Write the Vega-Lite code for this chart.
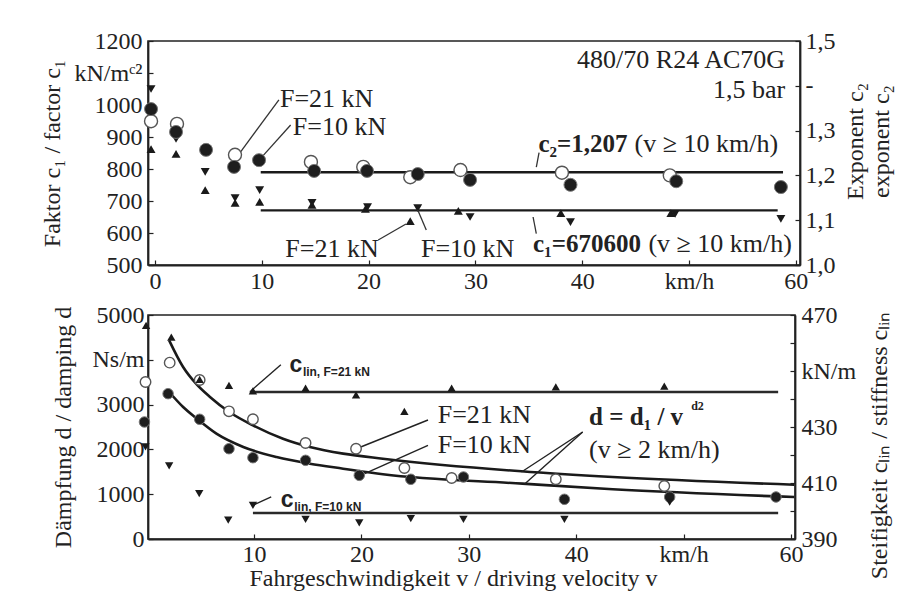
{
  "$schema": "https://vega.github.io/schema/vega-lite/v6.json",
  "bounds": "flush",
  "spacing": 50,
  "padding": {"left": 40, "top": 28, "right": 5, "bottom": 5},
  "config": {
    "font": "Times New Roman, Liberation Serif, serif",
    "view": {"stroke": "#222", "strokeWidth": 1.6},
    "axis": {
      "labelFont": "Times New Roman, Liberation Serif, serif", "labelFontSize": 24, "labelColor": "#222",
      "titleFont": "Times New Roman, Liberation Serif, serif", "titleFontSize": 24, "titleFontWeight": "normal", "titleColor": "#222",
      "grid": false, "domainColor": "#222", "domainWidth": 1.8,
      "tickColor": "#222", "tickSize": -5, "tickWidth": 1.2, "labelPadding": 10
    },
    "text": {"font": "Times New Roman, Liberation Serif, serif", "fontSize": 26, "color": "#222", "baseline": "middle"}
  },
  "datasets": {
    "top_c2_open": [
      {"v": -0.37, "c2": 1.321}, {"v": 2.06, "c2": 1.315}, {"v": 7.49, "c2": 1.246}, {"v": 14.6, "c2": 1.23},
      {"v": 19.5, "c2": 1.219}, {"v": 23.9, "c2": 1.196}, {"v": 28.6, "c2": 1.212}, {"v": 38.1, "c2": 1.206},
      {"v": 48.2, "c2": 1.2}
    ],
    "top_c2_filled": [
      {"v": -0.37, "c2": 1.348}, {"v": 1.97, "c2": 1.297}, {"v": 4.78, "c2": 1.257}, {"v": 7.4, "c2": 1.219},
      {"v": 9.74, "c2": 1.234}, {"v": 14.9, "c2": 1.21}, {"v": 19.85, "c2": 1.21}, {"v": 24.6, "c2": 1.203},
      {"v": 29.5, "c2": 1.19}, {"v": 38.9, "c2": 1.179}, {"v": 48.8, "c2": 1.187}, {"v": 58.6, "c2": 1.174}
    ],
    "top_c2_fit": [{"v": 9.9, "v2": 58.8, "c2": 1.207}],
    "top_c1_up": [
      {"v": -0.37, "c1": 862}, {"v": 1.97, "c1": 847}, {"v": 4.7, "c1": 734}, {"v": 7.5, "c1": 694},
      {"v": 9.8, "c1": 697}, {"v": 14.7, "c1": 688}, {"v": 19.7, "c1": 675}, {"v": 23.9, "c1": 637},
      {"v": 28.4, "c1": 669}, {"v": 38.0, "c1": 662}, {"v": 48.3, "c1": 662}
    ],
    "top_c1_down": [
      {"v": -0.37, "c1": 1050}, {"v": 1.97, "c1": 894}, {"v": 4.7, "c1": 791}, {"v": 7.5, "c1": 709},
      {"v": 9.8, "c1": 734}, {"v": 14.7, "c1": 694}, {"v": 19.9, "c1": 681}, {"v": 24.6, "c1": 678},
      {"v": 29.5, "c1": 650}, {"v": 38.9, "c1": 634}, {"v": 48.7, "c1": 660}, {"v": 58.6, "c1": 644}
    ],
    "top_c1_fit": [{"v": 9.9, "v2": 58.3, "c1": 670.6}],
    "top_lead": [
      {"v": 11.6, "c1": 1016, "v2": 8.0, "c1b": 853},
      {"v": 12.7, "c1": 937.5, "v2": 10.1, "c1b": 841},
      {"v": 20.9, "c1": 578, "v2": 23.5, "c1b": 628},
      {"v": 25.4, "c1": 609, "v2": 24.6, "c1b": 672},
      {"v": 35.96, "c1": 851, "v2": 35.7, "c1b": 806},
      {"v": 35.4, "c1": 650, "v2": 35.7, "c1b": 598}
    ],
    "top_text_left": [
      {"v": 11.7, "c1": 1019, "t": "F=21 kN"},
      {"v": 12.9, "c1": 931, "t": "F=10 kN"},
      {"v": 12.2, "c1": 550, "t": "F=21 kN"},
      {"v": 24.9, "c1": 550, "t": "F=10 kN"},
      {"v": 44.9, "c1": 878, "t": "(v ≥ 10 km/h)"},
      {"v": 46.2, "c1": 566, "t": "(v ≥ 10 km/h)"}
    ],
    "top_text_right": [
      {"v": 59.0, "c1": 1140, "t": "480/70 R24 AC70G"},
      {"v": 59.0, "c1": 1047, "t": "1,5 bar"}
    ],
    "top_text_bold": [
      {"v": 35.9, "c1": 878, "t": "c₂=1,207"},
      {"v": 35.4, "c1": 566, "t": "c₁=670600"}
    ],
    "bot_d_open": [
      {"v": -0.1, "d": 3504}, {"v": 2.15, "d": 3936}, {"v": 4.94, "d": 3550}, {"v": 7.67, "d": 2850},
      {"v": 9.9, "d": 2672}, {"v": 14.8, "d": 2143}, {"v": 19.5, "d": 2016}, {"v": 24.0, "d": 1585},
      {"v": 28.4, "d": 1362}, {"v": 38.1, "d": 1333}, {"v": 48.2, "d": 1183}
    ],
    "bot_d_filled": [
      {"v": -0.2, "d": 2612}, {"v": 2.0, "d": 3244}, {"v": 4.94, "d": 2672}, {"v": 7.67, "d": 2016},
      {"v": 9.9, "d": 1815}, {"v": 14.8, "d": 1756}, {"v": 19.8, "d": 1421}, {"v": 24.6, "d": 1333},
      {"v": 29.5, "d": 1384}, {"v": 38.9, "d": 886}, {"v": 48.7, "d": 938}, {"v": 58.6, "d": 938}
    ],
    "bot_fit": [
      {"s": "F21", "v": 2.1, "d": 4435}, {"s": "F21", "v": 3.4, "d": 3839}, {"s": "F21", "v": 4.6, "d": 3467},
      {"s": "F21", "v": 5.9, "d": 3170}, {"s": "F21", "v": 7.7, "d": 2835}, {"s": "F21", "v": 9.9, "d": 2537},
      {"s": "F21", "v": 12.7, "d": 2239}, {"s": "F21", "v": 15.2, "d": 2054}, {"s": "F21", "v": 18.3, "d": 1905},
      {"s": "F21", "v": 22.0, "d": 1793}, {"s": "F21", "v": 34.9, "d": 1511}, {"s": "F21", "v": 43.4, "d": 1384},
      {"s": "F21", "v": 60.3, "d": 1212},
      {"s": "F10", "v": 2.1, "d": 3281}, {"s": "F10", "v": 3.4, "d": 2946}, {"s": "F10", "v": 4.6, "d": 2701},
      {"s": "F10", "v": 6.5, "d": 2351}, {"s": "F10", "v": 9.0, "d": 2054}, {"s": "F10", "v": 12.1, "d": 1830},
      {"s": "F10", "v": 15.2, "d": 1681}, {"s": "F10", "v": 18.3, "d": 1570}, {"s": "F10", "v": 22.0, "d": 1444},
      {"s": "F10", "v": 35.0, "d": 1235}, {"s": "F10", "v": 43.4, "d": 1109}, {"s": "F10", "v": 60.3, "d": 937}
    ],
    "bot_lead": [
      {"v": 19.7, "d": 2031, "v2": 26.2, "d2": 2656},
      {"v": 20.3, "d": 1458, "v2": 26.2, "d2": 2092},
      {"v": 40.6, "d": 2388, "v2": 34.9, "d2": 1496},
      {"v": 40.6, "d": 2388, "v2": 35.2, "d2": 1228},
      {"v": 12.5, "d": 3891, "v2": 9.7, "d2": 3304},
      {"v": 11.6, "d": 938, "v2": 9.9, "d2": 752}
    ],
    "bot_text": [
      {"v": 27.1, "d": 2761, "t": "F=21 kN"},
      {"v": 27.1, "d": 2092, "t": "F=10 kN"},
      {"v": 41.2, "d": 1987, "t": "(v ≥ 2 km/h)"}
    ],
    "bot_text_bold": [
      {"v": 41.2, "d": 2723, "t": "d = d₁ / v"}
    ],
    "bot_text_sup": [
      {"v": 50.7, "d": 2960, "t": "d2"}
    ],
    "bot_c_big": [
      {"v": 13.3, "d": 3884, "t": "c"},
      {"v": 12.5, "d": 864, "t": "c"}
    ],
    "bot_c_small": [
      {"v": 14.55, "d": 3728, "t": "lin, F=21 kN"},
      {"v": 13.75, "d": 714, "t": "lin, F=10 kN"}
    ],
    "bot_c_up": [
      {"v": -0.05, "c": 466.3}, {"v": 2.3, "c": 462.1}, {"v": 4.94, "c": 447}, {"v": 7.67, "c": 444.9},
      {"v": 9.9, "c": 442.9}, {"v": 14.8, "c": 443.9}, {"v": 19.5, "c": 441.5}, {"v": 24.0, "c": 435.6},
      {"v": 28.4, "c": 443.9}, {"v": 38.1, "c": 444.3}, {"v": 48.2, "c": 444.6}
    ],
    "bot_c_down": [
      {"v": -0.1, "c": 422.9}, {"v": 2.1, "c": 416.1}, {"v": 4.9, "c": 406.2}, {"v": 7.6, "c": 396.7},
      {"v": 9.9, "c": 402.0}, {"v": 14.8, "c": 397.0}, {"v": 19.8, "c": 395.8}, {"v": 24.6, "c": 397.3},
      {"v": 29.5, "c": 397.0}, {"v": 38.9, "c": 397.0}, {"v": 48.7, "c": 403.2}
    ],
    "bot_c_fit": [
      {"v": 9.6, "v2": 58.8, "c": 442.5},
      {"v": 9.9, "v2": 58.8, "c": 399.3}
    ]
  },
  "vconcat": [
    {
      "width": 652,
      "height": 224,
      "resolve": {"scale": {"y": "independent"}},
      "layer": [
        {
          "encoding": {
            "x": {"field": "v", "type": "quantitative", "scale": {"domain": [-0.655, 60.39], "nice": false, "zero": false},
              "axis": {"values": [0, 10, 20, 30, 40, 50, 60], "labelExpr": "datum.value == 50 ? 'km/h' : datum.label", "title": null, "labelPadding": 9, "labelFlush": false}},
            "y": {"field": "c1", "type": "quantitative", "scale": {"domain": [500, 1200], "nice": false, "zero": false},
              "axis": {"values": [500, 600, 700, 800, 900, 1000, 1100, 1200], "format": "d", "labelExpr": "datum.value == 1100 ? 'kN/mᶜ²' : datum.label", "title": "Faktor c₁ / factor c₁", "titlePadding": 9, "labelPadding": 11}}
          },
          "layer": [
            {"data": {"name": "top_c1_up"}, "mark": {"type": "point", "shape": "triangle-up", "filled": true, "size": 80, "color": "#1a1a1a", "opacity": 1}},
            {"data": {"name": "top_c1_down"}, "mark": {"type": "point", "shape": "triangle-down", "filled": true, "size": 80, "color": "#1a1a1a", "opacity": 1}},
            {"data": {"name": "top_c1_fit"}, "mark": {"type": "rule", "strokeWidth": 2.4, "color": "#1a1a1a"}, "encoding": {"x2": {"field": "v2"}}},
            {"data": {"name": "top_lead"}, "mark": {"type": "rule", "strokeWidth": 1.3, "color": "#333"}, "encoding": {"x2": {"field": "v2"}, "y2": {"field": "c1b"}}},
            {"data": {"name": "top_text_left"}, "mark": {"type": "text", "align": "left"}, "encoding": {"text": {"field": "t"}}},
            {"data": {"name": "top_text_right"}, "mark": {"type": "text", "align": "right"}, "encoding": {"text": {"field": "t"}}},
            {"data": {"name": "top_text_bold"}, "mark": {"type": "text", "align": "left", "fontWeight": "bold", "fontSize": 25}, "encoding": {"text": {"field": "t"}}}
          ]
        },
        {
          "encoding": {
            "x": {"field": "v", "type": "quantitative", "scale": {"domain": [-0.655, 60.39], "nice": false, "zero": false},
              "axis": {"values": [0, 10, 20, 30, 40, 50, 60], "labelExpr": "datum.value == 50 ? 'km/h' : datum.label", "title": null, "labelPadding": 9, "labelFlush": false}},
            "y": {"field": "c2", "type": "quantitative", "scale": {"domain": [1.0, 1.5], "nice": false, "zero": false},
              "axis": {"orient": "right", "values": [1.0, 1.1, 1.2, 1.3, 1.4, 1.5], "labelExpr": "abs(datum.value - 1.4) < 0.001 ? '-' : replace(format(datum.value, '.1f'), '.', ',')", "title": ["Exponent c₂", "exponent c₂"], "titleAngle": 270, "titlePadding": 6, "titleY": 100}}
          },
          "layer": [
            {"data": {"name": "top_c2_fit"}, "mark": {"type": "rule", "strokeWidth": 2.4, "color": "#1a1a1a"}, "encoding": {"x2": {"field": "v2"}}},
            {"data": {"name": "top_c2_open"}, "mark": {"type": "point", "shape": "circle", "filled": true, "size": 169, "fill": "white", "stroke": "#555", "strokeWidth": 1.4, "opacity": 1}},
            {"data": {"name": "top_c2_filled"}, "mark": {"type": "point", "shape": "circle", "filled": true, "size": 169, "fill": "#1e1e1e", "stroke": "#777", "strokeWidth": 1, "opacity": 1}}
          ]
        }
      ]
    },
    {
      "width": 647,
      "height": 224,
      "resolve": {"scale": {"y": "independent"}},
      "layer": [
        {
          "encoding": {
            "x": {"field": "v", "type": "quantitative", "scale": {"domain": [0.13, 60.37], "nice": false, "zero": false},
              "axis": {"values": [0, 10, 20, 30, 40, 50, 60], "labelExpr": "datum.value == 0 ? '' : datum.value == 50 ? 'km/h' : datum.label", "title": "Fahrgeschwindigkeit v / driving velocity v", "titlePadding": 0, "labelPadding": 8, "labelFlush": false, "titleX": 305}},
            "y": {"field": "d", "type": "quantitative", "scale": {"domain": [0, 5000], "nice": false, "zero": false},
              "axis": {"values": [0, 1000, 2000, 3000, 4000, 5000], "format": "d", "labelExpr": "datum.value == 4000 ? 'Ns/m' : datum.label", "title": "Dämpfung d / damping d", "titlePadding": 16, "labelPadding": 9}}
          },
          "layer": [
            {"data": {"name": "bot_fit"}, "mark": {"type": "line", "interpolate": "monotone", "strokeWidth": 2.6, "color": "#1a1a1a"}, "encoding": {"detail": {"field": "s"}}},
            {"data": {"name": "bot_lead"}, "mark": {"type": "rule", "strokeWidth": 1.4, "color": "#222"}, "encoding": {"x2": {"field": "v2"}, "y2": {"field": "d2"}}},
            {"data": {"name": "bot_d_open"}, "mark": {"type": "point", "shape": "circle", "filled": true, "size": 110, "fill": "white", "stroke": "#555", "strokeWidth": 1.4, "opacity": 1}},
            {"data": {"name": "bot_d_filled"}, "mark": {"type": "point", "shape": "circle", "filled": true, "size": 110, "fill": "#1e1e1e", "stroke": "#777", "strokeWidth": 1, "opacity": 1}},
            {"data": {"name": "bot_text"}, "mark": {"type": "text", "align": "left"}, "encoding": {"text": {"field": "t"}}},
            {"data": {"name": "bot_text_bold"}, "mark": {"type": "text", "align": "left", "fontWeight": "bold", "fontSize": 25}, "encoding": {"text": {"field": "t"}}},
            {"data": {"name": "bot_text_sup"}, "mark": {"type": "text", "align": "left", "fontWeight": "bold", "fontSize": 12}, "encoding": {"text": {"field": "t"}}},
            {"data": {"name": "bot_c_big"}, "mark": {"type": "text", "align": "left", "fontWeight": "bold", "font": "Liberation Sans", "fontSize": 23}, "encoding": {"text": {"field": "t"}}},
            {"data": {"name": "bot_c_small"}, "mark": {"type": "text", "align": "left", "fontWeight": "bold", "font": "Liberation Sans", "fontSize": 12}, "encoding": {"text": {"field": "t"}}}
          ]
        },
        {
          "encoding": {
            "x": {"field": "v", "type": "quantitative", "scale": {"domain": [0.13, 60.37], "nice": false, "zero": false},
              "axis": {"values": [0, 10, 20, 30, 40, 50, 60], "labelExpr": "datum.value == 0 ? '' : datum.value == 50 ? 'km/h' : datum.label", "title": "Fahrgeschwindigkeit v / driving velocity v", "titlePadding": 0, "labelPadding": 8, "labelFlush": false, "titleX": 305}},
            "y": {"field": "c", "type": "quantitative", "scale": {"domain": [390, 470], "nice": false, "zero": false},
              "axis": {"orient": "right", "values": [390, 400, 410, 420, 430, 440, 450, 460, 470], "labelExpr": "datum.value == 450 ? 'kN/m' : (datum.value == 390 || datum.value == 410 || datum.value == 430 || datum.value == 470) ? datum.label : ''", "title": "Steifigkeit cₗᵢₙ / stiffness cₗᵢₙ", "titleAngle": 270, "titleBaseline": "top", "titlePadding": 12, "titleY": 130, "labelPadding": 11}}
          },
          "layer": [
            {"data": {"name": "bot_c_fit"}, "mark": {"type": "rule", "strokeWidth": 2.6, "color": "#2a2a2a"}, "encoding": {"x2": {"field": "v2"}}},
            {"data": {"name": "bot_c_up"}, "mark": {"type": "point", "shape": "triangle-up", "filled": true, "size": 70, "color": "#1a1a1a", "opacity": 1}},
            {"data": {"name": "bot_c_down"}, "mark": {"type": "point", "shape": "triangle-down", "filled": true, "size": 70, "color": "#1a1a1a", "opacity": 1}}
          ]
        }
      ]
    }
  ]
}
